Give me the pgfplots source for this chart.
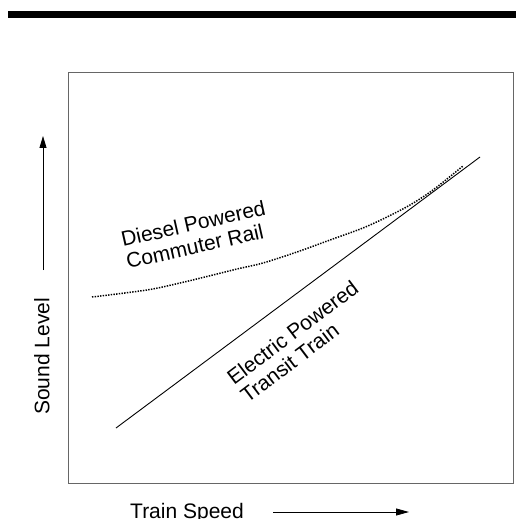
\documentclass[border=0pt]{standalone}
\usepackage{pgfplots}
\pgfplotsset{compat=1.18}
\usepackage{fontspec}
\setmainfont{Liberation Sans}
\usetikzlibrary{arrows.meta}
\begin{document}
\begin{tikzpicture}
\begin{axis}[
  scale only axis, width=445pt, height=410pt,
  xmin=68.3, xmax=513.3, ymin=73, ymax=483, y dir=reverse,
  xtick=\empty, ytick=\empty, clip=false,
  axis line style={black!60, line width=1pt},
]
% Electric powered transit train
\addplot[black, line width=0.9pt] coordinates {(116,428) (480,157)};
% Diesel powered commuter rail
\addplot[black, line width=1.5pt, dash pattern=on 1.4pt off 1.3pt, smooth] coordinates {
(92,297) (147,290) (180,283) (213,275) (237,269) (263,263) (297,252)
(330,240) (363,228) (387,217) (410,205) (433,190) (463,166)};
\coordinate (bbA) at (axis cs:0,0);
\coordinate (bbB) at (axis cs:516,519);
\fill[black] (axis cs:8,11) rectangle (axis cs:516,18);
\draw[line width=0.8pt, -{Triangle[length=12pt,width=7pt]}] (axis cs:43,270) -- (axis cs:43,136);
\draw[line width=0.8pt, -{Triangle[length=13pt,width=7pt]}] (axis cs:273,512) -- (axis cs:409,512);
\node[anchor=base west, rotate=90, inner sep=0pt, font=\fontsize{21}{25}\selectfont] at (axis cs:49.5,415) {Sound Level};
\node[anchor=base west, inner sep=0pt, font=\fontsize{21}{25}\selectfont] at (axis cs:130,518) {Train Speed};
\node[anchor=base west, rotate=12.7, inner sep=0pt, font=\fontsize{21}{22.5}\selectfont] at (axis cs:123,247)
  {\begin{tabular}[t]{@{}l@{}}Diesel Powered\\Commuter Rail\end{tabular}};
\node[anchor=base west, rotate=37, inner sep=0pt, font=\fontsize{21}{22.5}\selectfont] at (axis cs:234,386)
  {\begin{tabular}[t]{@{}l@{}}Electric Powered\\Transit Train\end{tabular}};
\end{axis}
\pgfresetboundingbox
\useasboundingbox (bbA) rectangle (bbB);
\end{tikzpicture}
\end{document}
